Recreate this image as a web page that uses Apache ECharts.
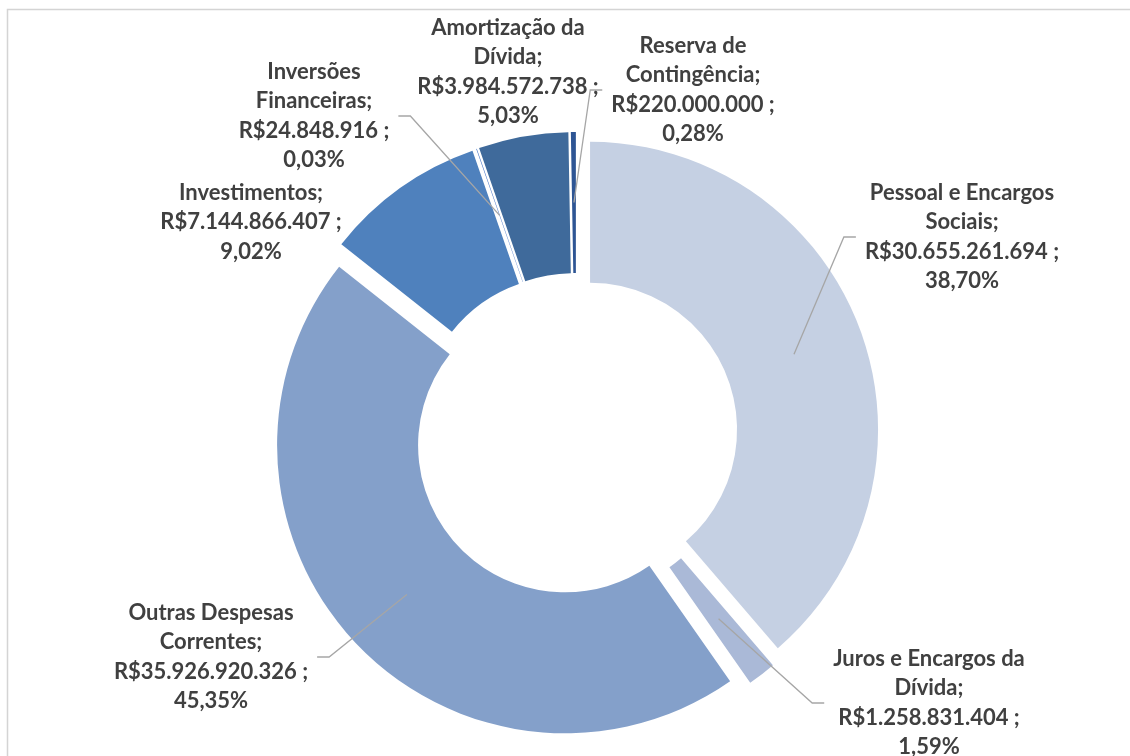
<!DOCTYPE html>
<html><head><meta charset="utf-8">
<script src="https://cdn.jsdelivr.net/npm/echarts@6/dist/echarts.min.js"></script>
<style>html,body{margin:0;padding:0;background:#fff;overflow:hidden}#c{width:1130px;height:756px}</style>
</head><body><div id="c"></div>
<script>
const categories = ['Pessoal e Encargos Sociais','Juros e Encargos da Dívida','Outras Despesas Correntes','Investimentos','Inversões Financeiras','Amortização da Dívida','Reserva de Contingência'];
const labelNames = ['Pessoal e Encargos\nSociais;','Juros e Encargos da\nDívida;','Outras Despesas\nCorrentes;','Investimentos;','Inversões\nFinanceiras;','Amortização da\nDívida;','Reserva de\nContingência;'];
const values = [30655261694,1258831404,35926920326,7144866407,24848916,3984572738,220000000];
const percents = ['38,70%','1,59%','45,35%','9,02%','0,03%','5,03%','0,28%'];
const colors = ['#c5d0e3','#aab9d7','#84a0ca','#4f81bd','#4472c4','#3f6a9b','#2e5594'];
const showLeader = [true,true,true,false,true,false,true];

// layout constants
const CX = 576, CY = 435, R0 = 147, R1 = 288, OFF = 15;
const labelCenters = [[962,237],[929,703],[211,657],[251,222],[314,116],[508,72],[693,90]];
const FONT_SIZE = 22, LINE_H = 29.5, FONT_FAMILY = 'Lato';

function fmt(v){ return 'R$' + String(v).replace(/\B(?=(\d{3})+(?!\d))/g,'.'); }

const total = values.reduce((a,b)=>a+b,0);
const midAngles = [];
let acc = 0;
values.forEach(v => { midAngles.push((acc + v/2)/total*2*Math.PI); acc += v; });

const ctx = document.createElement('canvas').getContext('2d');
ctx.font = 'bold ' + FONT_SIZE + 'px ' + FONT_FAMILY;

const graphics = [{type:'rect', z:-10, silent:true, shape:{x:7.5,y:9.5,width:1140,height:800}, style:{fill:'none', stroke:'#d4d4d4', lineWidth:1.5}}];

categories.forEach((c,i)=>{
  const text = labelNames[i] + '\n' + fmt(values[i]) + ' ;\n' + percents[i];
  const [lx, ly] = labelCenters[i];
  graphics.push({type:'text', x: lx, y: ly, z: 20, silent: true, style: {
    text: text, fill: '#404040', fontFamily: FONT_FAMILY, fontWeight: 'bold', fontSize: FONT_SIZE,
    lineHeight: LINE_H, align: 'center', verticalAlign: 'middle'
  }});
  if (showLeader[i]) {
    const w = Math.max(...text.split('\n').map(s => ctx.measureText(s).width));
    const a = midAngles[i], rr = OFF + (R0 + R1)/2;
    const sx = CX + rr*Math.sin(a), sy = CY - rr*Math.cos(a);
    let ex, elx;
    if (lx > sx) { ex = lx - w/2 - 9; elx = ex - 12; }
    else { ex = lx + w/2 + 9; elx = ex + 12; }
    graphics.push({type:'polyline', z: 15, silent: true, shape: {points: [[sx, sy],[elx, ly],[ex, ly]]},
      style: {stroke: '#a6a6a6', lineWidth: 1.3, fill: null}});
  }
});

const data = categories.map((c,i)=>({
  name: c,
  value: values[i],
  selected: true,
  itemStyle: {color: colors[i], borderWidth: 0}
}));

const chart = echarts.init(document.getElementById('c'), null, {renderer:'canvas'});
chart.setOption({
  animation: false,
  backgroundColor: '#ffffff',
  graphic: graphics,
  series: [{
    type: 'pie',
    center: [CX, CY],
    radius: [R0, R1],
    startAngle: 90,
    clockwise: true,
    selectedMode: 'multiple',
    selectedOffset: OFF,
    avoidLabelOverlap: false,
    silent: true,
    emphasis: {disabled: true},
    itemStyle: {borderWidth: 0},
    label: {show: false},
    labelLine: {show: false},
    data: data
  }]
});
</script></body></html>
